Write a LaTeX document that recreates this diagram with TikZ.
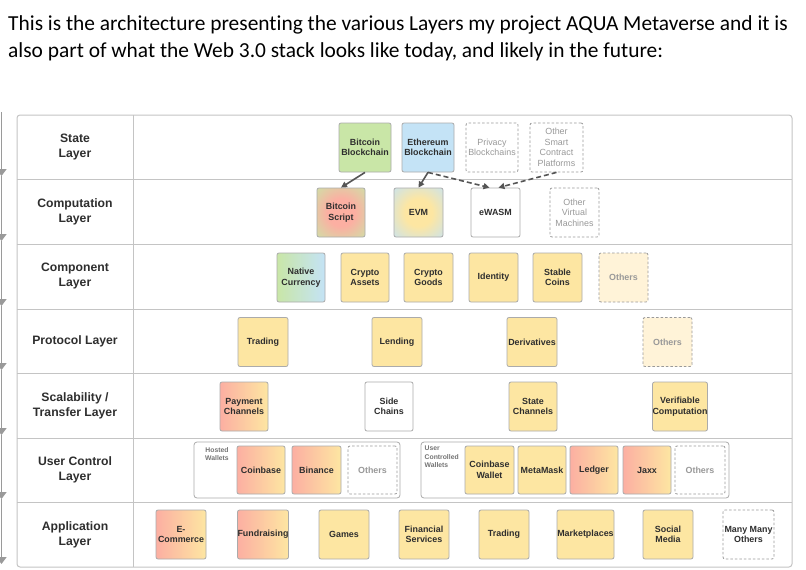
\documentclass[tikz,border=0pt]{standalone}
\usepackage{fontspec}
\setmainfont{Liberation Sans}
\newfontfamily\titlefont[Ligatures=NoCommon]{Carlito}
\usetikzlibrary{arrows.meta,calc}
\definecolor{gridc}{HTML}{C4C4C4}
\definecolor{boxc}{HTML}{ABABAB}
\definecolor{txtc}{HTML}{2E2E2E}
\definecolor{labc}{HTML}{2E2E2E}
\definecolor{greenF}{HTML}{C9E6A7}
\definecolor{blueF}{HTML}{C4E3F6}
\definecolor{yellowF}{HTML}{FDE6A2}
\definecolor{pinkF}{HTML}{FCAFA2}
\definecolor{paleF}{HTML}{FFF3D8}
\definecolor{grayT}{HTML}{999999}
\definecolor{arrc}{HTML}{555555}
\definecolor{sidec}{HTML}{9A9A9A}
\pgfdeclareradialshading{redglow}{\pgfpoint{0bp}{0bp}}{color(0bp)=(pinkF); color(14bp)=(pinkF); color(40bp)=(greenF); color(50bp)=(greenF)}
\pgfdeclareradialshading{yellowglow}{\pgfpoint{0bp}{0bp}}{color(0bp)=(yellowF); color(14bp)=(yellowF); color(40bp)=(blueF); color(50bp)=(blueF)}
\newcommand{\bxfont}{\fontsize{8.9}{10.5}\selectfont\bfseries}
\newcommand{\labfont}{\fontsize{12.2}{15}\selectfont\bfseries}
\tikzset{
  bx/.style={draw=boxc, line width=0.8pt, rounded corners=2pt, minimum width=49pt, minimum height=49pt, inner sep=0pt, align=center, font=\bxfont, text=txtc},
  ybx/.style={bx, fill=yellowF},
  gbx/.style={bx, fill=greenF},
  bbx/.style={bx, fill=blueF},
  wbx/.style={bx, fill=white},
  pbx/.style={bx, left color=pinkF, right color=yellowF},
  dbx/.style={bx, fill=white, draw=grayT, dash pattern=on 2.5pt off 2pt, text=grayT},
  dbxl/.style={dbx, font=\fontsize{8.9}{10.5}\selectfont},
  pdbx/.style={dbx, fill=paleF},
  cont/.style={draw=boxc, line width=0.8pt, rounded corners=3pt, fill=white, minimum height=56pt, inner sep=0pt},
  lab/.style={font=\labfont, text=labc, align=center},
  small/.style={font=\fontsize{6.8}{8.5}\selectfont\bfseries, text=gray!90!black, inner sep=0pt},
  arr/.style={draw=arrc, line width=1.6pt, -{Triangle[length=6pt,width=6pt]}},
  darr/.style={arr, dash pattern=on 5pt off 3pt},
  side/.style={draw=sidec, line width=1.8pt, -{Triangle[length=7pt,width=10pt]}},
  grid/.style={draw=gridc, line width=1pt}
}
\begin{document}
\begin{tikzpicture}[x=1pt,y=-1pt]
\useasboundingbox (0,0) rectangle (806,570);
\fill[white] (0,0) rectangle (806,570);
% title
\node[anchor=base west, inner sep=0pt, font=\titlefont\fontsize{21.4}{27}\selectfont] (t1) at (8,30) {This is the architecture presenting the various Layers my project AQUA Metaverse and it is};
\node[anchor=base west, inner sep=0pt, font=\titlefont\fontsize{21.4}{27}\selectfont] (t2) at (8,57) {also part of what the Web 3.0 stack looks like today, and likely in the future:};
% side arrows
\coordinate (s0) at (1.5,112);
\coordinate (s1) at (1.5,176);
\coordinate (s2) at (1.5,241);
\coordinate (s3) at (1.5,306);
\coordinate (s4) at (1.5,370);
\coordinate (s5) at (1.5,435);
\coordinate (s6) at (1.5,499);
\coordinate (s7) at (1.5,564);
\draw[side] (s0) -- (s1);
\draw[side] (s1) -- (s2);
\draw[side] (s2) -- (s3);
\draw[side] (s3) -- (s4);
\draw[side] (s4) -- (s5);
\draw[side] (s5) -- (s6);
\draw[side] (s6) -- (s7);
% grid
\draw[grid, rounded corners=3pt] (17,115) rectangle (792,567);
\foreach \yy in {179,244,309,373,438,502} \draw[grid] (17,\yy) -- (792,\yy);
\draw[grid] (133,115) -- (133,567);
% labels
\node[lab] (l1) at (75,147) {State\\Layer};
\node[lab] (l2) at (75,211.5) {Computation\\Layer};
\node[lab] (l3) at (75,276.5) {Component\\Layer};
\node[lab] (l4) at (75,341) {Protocol Layer};
\node[lab] (l5) at (75,405.5) {Scalability /\\Transfer Layer};
\node[lab] (l6) at (75,470) {User Control\\Layer};
\node[lab] (l7) at (75,534.5) {Application\\Layer};
% state layer
\node[gbx, minimum width=52pt] (btcb) at (365,147.5) {Bitcoin\\Blockchain};
\node[bbx, minimum width=52pt] (ethb) at (428,147.5) {Ethereum\\Blockchain};
\node[dbxl, minimum width=52pt] (privb) at (492,147.5) {Privacy\\Blockchains};
\node[dbxl, minimum width=53pt] (othsc) at (556.5,147.5) {Other\\Smart\\Contract\\Platforms};
% computation layer
\node[bx, shade, shading=redglow, minimum width=48pt] (btcs) at (341,212.5) {Bitcoin\\Script};
\node[bx, shade, shading=yellowglow] (evm) at (418.5,212.5) {EVM};
\node[wbx] (ewasm) at (495.5,212.5) {eWASM};
\node[dbxl] (othvm) at (574.5,212.5) {Other\\Virtual\\Machines};
\draw[arr] (btcb.south) -- (btcs.north);
\draw[arr] (ethb.south) -- (evm.north);
\draw[darr] (ethb.south) -- ($(ewasm.north)+(-6,0)$);
\draw[darr] (othsc.south) -- ($(ewasm.north)+(3,0)$);
% component layer
\node[bx, left color=greenF, right color=blueF, minimum width=48pt] (native) at (301,277.5) {Native\\Currency};
\node[ybx, minimum width=48pt] (cassets) at (365,277.5) {Crypto\\Assets};
\node[ybx] (cgoods) at (428.5,277.5) {Crypto\\Goods};
\node[ybx] (ident) at (493.5,277.5) {Identity};
\node[ybx] (stable) at (557.5,277.5) {Stable\\Coins};
\node[pdbx] (othc) at (623.5,277.5) {Others};
% protocol layer
\node[ybx, minimum width=50pt] (ptrading) at (263,342) {Trading};
\node[ybx, minimum width=50pt] (lending) at (397,342) {Lending};
\node[ybx, minimum width=50pt] (deriv) at (532,342) {Derivatives};
\node[pdbx] (othp) at (667.5,342) {Others};
% scalability layer
\node[pbx, minimum width=48pt] (paych) at (244,406.5) {Payment\\Channels};
\node[wbx, minimum width=48pt] (side) at (389,406.5) {Side\\Chains};
\node[ybx, minimum width=48pt] (statech) at (533,406.5) {State\\Channels};
\node[ybx, minimum width=54pt] (verif) at (680,406.5) {Verifiable\\Computation};
% user control layer
\node[cont, minimum width=206pt] (hosted) at (297,470) {};
\node[cont, minimum width=308pt] (userc) at (575,470) {};
\node[small, align=center] (hostedl) at (217,454) {Hosted\\Wallets};
\node[small, align=left, anchor=north west] (userl) at (424.5,446) {User\\Controlled\\Wallets};
\node[pbx, minimum height=48pt, minimum width=48pt] (coinbase) at (261,470) {Coinbase};
\node[pbx, minimum height=48pt] (binance) at (316.5,470) {Binance};
\node[dbx, minimum height=48pt] (othh) at (372.5,470) {Others};
\node[ybx, minimum height=48pt] (cbwallet) at (489.5,470) {Coinbase\\Wallet};
\node[ybx, minimum height=48pt, minimum width=48pt] (metamask) at (542,470) {MetaMask};
\node[pbx, minimum height=48pt, minimum width=48pt] (ledger) at (594,470) {Ledger};
\node[pbx, minimum height=48pt, minimum width=48pt] (jaxx) at (647,470) {Jaxx};
\node[dbx, minimum height=48pt, minimum width=50pt] (othu) at (700,470) {Others};
% application layer
\node[pbx, minimum width=50pt] (ecom) at (181,534.5) {E-\\Commerce};
\node[pbx, minimum width=50pt] (fund) at (263,534.5) {Fundraising};
\node[ybx, minimum width=50pt] (games) at (344,534.5) {Games};
\node[ybx, minimum width=50pt] (fin) at (424,534.5) {Financial\\Services};
\node[ybx, minimum width=50pt] (atrading) at (504,534.5) {Trading};
\node[ybx, minimum width=57pt] (market) at (585.5,534.5) {Marketplaces};
\node[ybx, minimum width=50pt] (social) at (668,534.5) {Social\\Media};
\node[dbx, minimum width=51pt, text=txtc] (many) at (748.5,534.5) {Many Many\\Others};
\end{tikzpicture}
\end{document}
